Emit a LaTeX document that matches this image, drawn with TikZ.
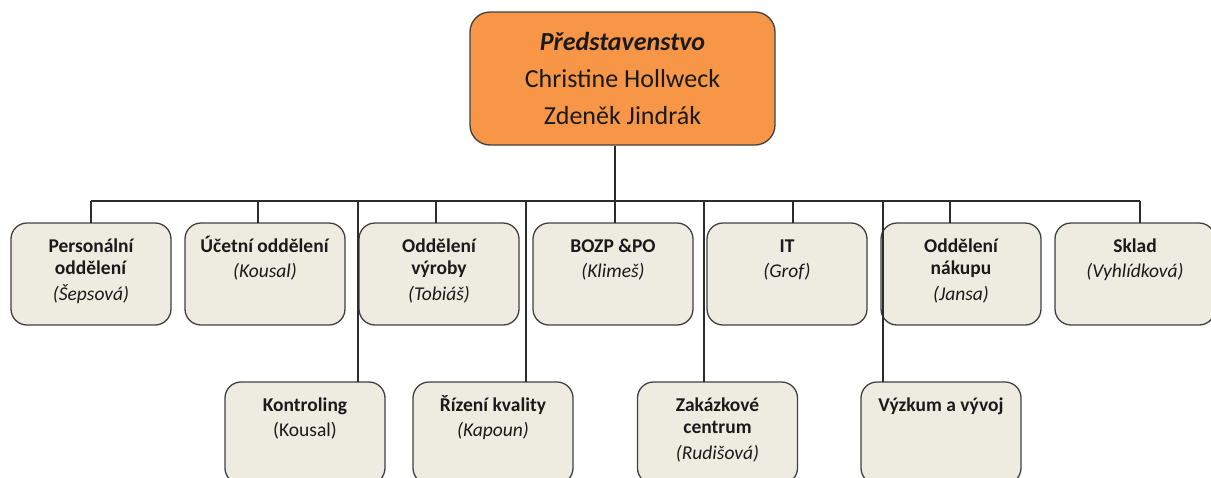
\documentclass[tikz,border=0pt]{standalone}
\usepackage{fontspec}
\setmainfont{Carlito}
\usetikzlibrary{positioning}

\definecolor{boardorange}{HTML}{F79646}
\definecolor{deptfill}{HTML}{EEECE1}
\definecolor{boxline}{HTML}{404040}
\definecolor{linkgray}{HTML}{2B2B2B}
\definecolor{inkblack}{HTML}{1A1A1A}

% title lines bold, head of department italic below
\newcommand{\depttext}[2]{%
  \begin{minipage}[t][102pt][t]{160pt}\centering
    \rule{0pt}{29pt}\textbf{#1}\par\vspace{3pt}\textit{#2}
  \end{minipage}}

\begin{document}
\begin{tikzpicture}[
    x = 1pt, y = -1pt, % one unit per pixel, y going down
    node distance = 14pt, % gap between the boxes of a row
    text = inkblack,
    board/.style = {draw = boxline, fill = boardorange, line width = 1.3pt,
      rounded corners = 20pt, minimum width = 305pt, minimum height = 133pt,
      align = center, font = \fontsize{26}{37}\selectfont},
    dept/.style = {draw = boxline, fill = deptfill, line width = 1.3pt,
      rounded corners = 16pt, inner sep = 0pt, outer sep = 0pt,
      font = \fontsize{19.5}{22.5}\selectfont},
    link/.style = {draw = linkgray, line width = 1.2pt}
  ]

  \useasboundingbox (0,0) rectangle (1211,477);
  \clip (0,0) rectangle (1211,477);

  \node[board] (board) at (622.5,78.5)
    {\textbf{\textit{Představenstvo}}\\Christine Hollweck\\Zdeněk Jindrák};

  % first row
  \node[dept, anchor = north] (pers) at (91,223) {\depttext{Personální\\oddělení}{(Šepsová)}};
  \node[dept] (ucet) [right = of pers] {\depttext{Účetní oddělení}{(Kousal)}};
  \node[dept] (vyroba) [right = of ucet] {\depttext{Oddělení\\výroby}{(Tobiáš)}};
  \node[dept] (bozp) [right = of vyroba] {\depttext{BOZP \&PO}{(Klimeš)}};
  \node[dept] (it) [right = of bozp] {\depttext{IT}{(Grof)}};
  \node[dept] (nakup) [right = of it] {\depttext{Oddělení\\nákupu}{(Jansa)}};
  \node[dept] (sklad) [right = of nakup] {\depttext{Sklad}{(Vyhlídková)}};

  % second row
  \node[dept, anchor = north] (kontr) at (305,382) {\depttext{Kontroling}{\textup{(Kousal)}}};
  \node[dept, anchor = north] (kvalita) at (493,382) {\depttext{Řízení kvality}{(Kapoun)}};
  \node[dept, anchor = north] (zakazky) at (717.5,382) {\depttext{Zakázkové\\centrum}{(Rudišová)}};
  \node[dept, anchor = north] (vyzkum) at (941,382) {\depttext{Výzkum a vývoj}{}};

  % connectors
  \coordinate (bus) at (615,201);
  \coordinate (busL) at (pers.north |- bus);
  \coordinate (busR) at (1140,201);
  \draw[link] (board.south -| bus) -- (bus);
  \draw[link] (busL) -- (busR);
  \foreach \x/\n in {91/pers, 258/ucet, 436/vyroba, 615/bozp, 793/it, 950/nakup,
      1140/sklad, 358/kontr, 526/kvalita, 704/zakazky, 883/vyzkum}
    \draw[link] (\x,201) -- (\x,0 |- \n.north);
\end{tikzpicture}
\end{document}
